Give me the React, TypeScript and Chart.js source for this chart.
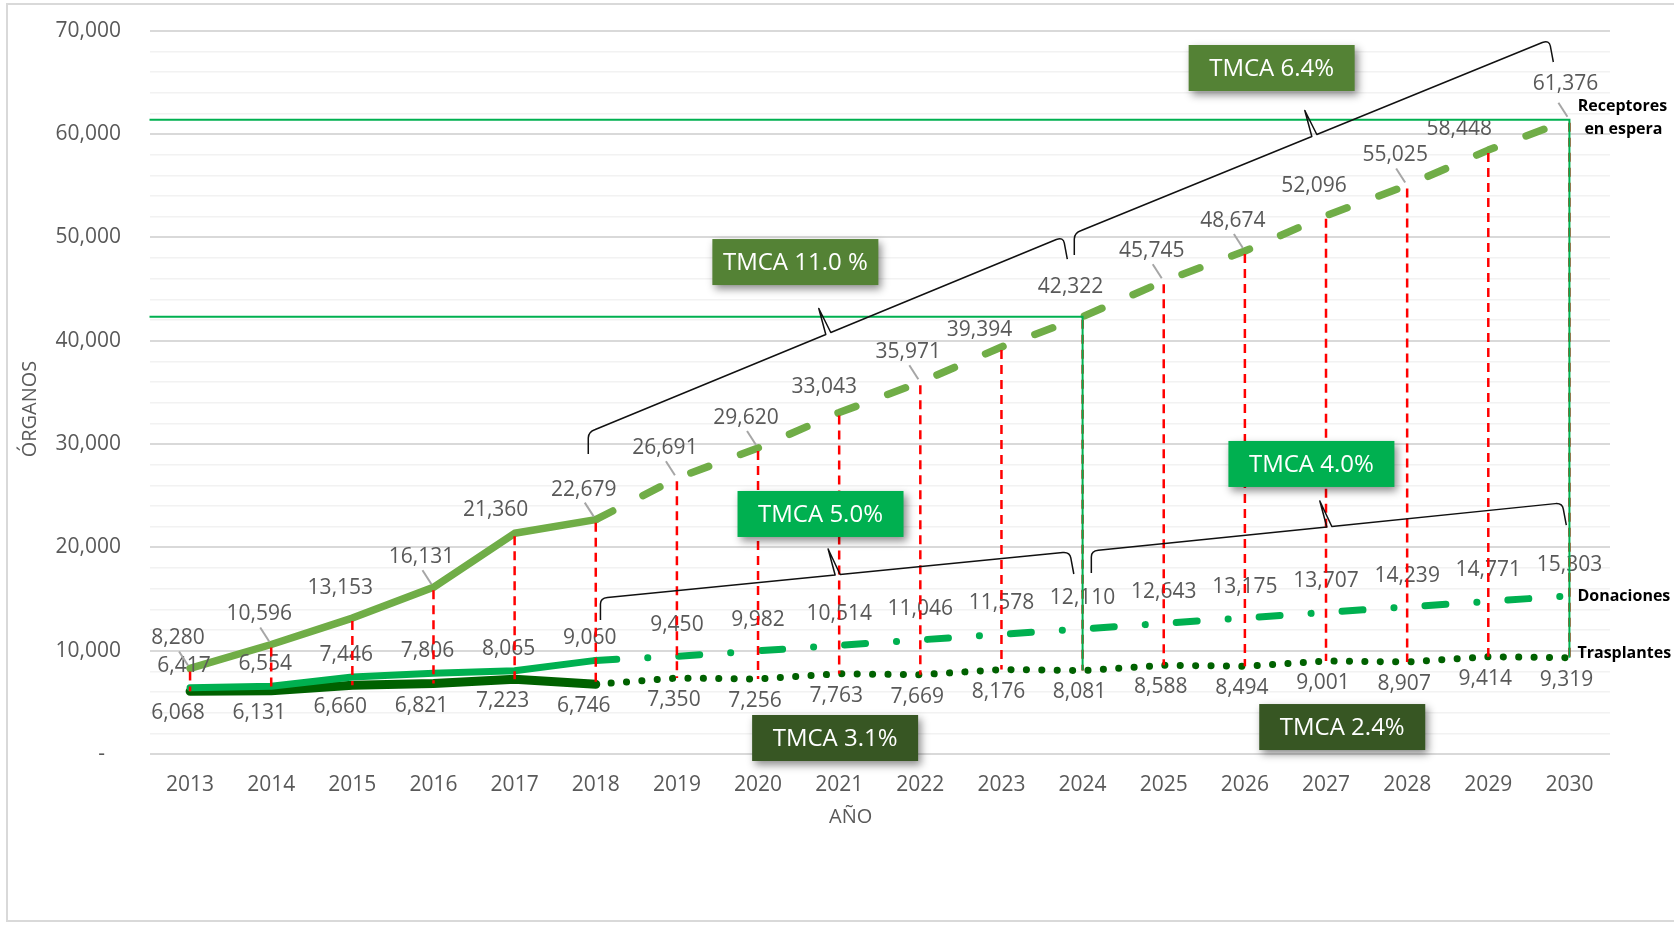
import React, { useEffect, useRef } from 'react';
import { Chart, registerables } from 'chart.js';

Chart.register(...registerables);

const years = ['2013', '2014', '2015', '2016', '2017', '2018', '2019', '2020', '2021', '2022', '2023', '2024', '2025', '2026', '2027', '2028', '2029', '2030'];
const receptores = [8280, 10596, 13153, 16131, 21360, 22679, 26691, 29620, 33043, 35971, 39394, 42322, 45745, 48674, 52096, 55025, 58448, 61376];
const donaciones = [6417, 6554, 7446, 7806, 8065, 9060, 9450, 9982, 10514, 11046, 11578, 12110, 12643, 13175, 13707, 14239, 14771, 15303];
const trasplantes = [6068, 6131, 6660, 6821, 7223, 6746, 7350, 7256, 7763, 7669, 8176, 8081, 8588, 8494, 9001, 8907, 9414, 9319];
const seriesNames = ['Receptores en espera', 'Donaciones', 'Trasplantes'];
const yTickMax = 70000;
const yTickStep = 2000;
const lastObservedIndex = 5; // 2018
const milestoneIndices = [11, 17]; // 2024, 2030
const receptorLeaderYears = ['2013', '2014', '2016', '2018', '2019', '2020', '2022', '2025', '2026', '2028', '2030'];
const tmcaTexts = ['TMCA 11.0 %', 'TMCA 6.4%', 'TMCA 5.0%', 'TMCA 4.0%', 'TMCA 3.1%', 'TMCA 2.4%'];

// label placement exceptions for the receptores series (pixel offsets from the point)
const receptorLabelShift: Record<string, [number, number]> = {
  '2017': [-19, -23],
  '2021': [-15, -26],
  '2023': [-22, -17],
  '2029': [-29, -21],
  '2030': [-4, -36],
};

// annotation placement (data space: category index, value)
const tmcaBoxes = [
  { text: tmcaTexts[0], x: 7.46, y: 47610, color: '#548235' },
  { text: tmcaTexts[1], x: 13.33, y: 66390, color: '#548235' },
  { text: tmcaTexts[2], x: 7.77, y: 23230, color: '#00B050' },
  { text: tmcaTexts[3], x: 13.82, y: 28070, color: '#00B050' },
  { text: tmcaTexts[4], x: 7.95, y: 1550, color: '#375623' },
  { text: tmcaTexts[5], x: 14.2, y: 2610, color: '#375623' },
];
const braces = [
  { x1: 4.92, y1: 31160, x2: 10.75, y2: 50030 },
  { x1: 10.91, y1: 50420, x2: 16.74, y2: 69100 },
  { x1: 5.07, y1: 15100, x2: 10.83, y2: 19550 },
  { x1: 11.12, y1: 19650, x2: 16.9, y2: 24290 },
];

const FONT = "'Open Sans', sans-serif";
const GREY = '#595959';
const fmt = (v: number) => v.toLocaleString('en-US');

function drawBrace(ctx: CanvasRenderingContext2D, x1: number, y1: number, x2: number, y2: number) {
  const slope = (y2 - y1) / (x2 - x1);
  const ly = (x: number) => y1 + (x - x1) * slope;
  const mx = (x1 + x2) / 2;
  ctx.beginPath();
  ctx.moveTo(x1 - 1, y1 + 22);
  ctx.lineTo(x1 - 1, y1 + 6);
  ctx.quadraticCurveTo(x1 - 1, y1, x1 + 6, ly(x1 + 6));
  ctx.lineTo(mx, ly(mx));
  ctx.lineTo(mx - 7, ly(mx) - 26);
  ctx.lineTo(mx + 5, ly(mx + 5));
  ctx.lineTo(x2 - 6, ly(x2 - 6));
  ctx.quadraticCurveTo(x2 + 1, y2, x2 + 2, y2 + 6);
  ctx.lineTo(x2 + 5, y2 + 22);
  ctx.stroke();
}

const overlayPlugin = {
  id: 'overlay',
  afterDatasetsDraw(chart: any) {
    const { ctx, chartArea, scales } = chart;
    const xs = scales.x;
    const ys = scales.y;
    const px = (i: number) => xs.getPixelForValue(i);
    const py = (v: number) => ys.getPixelForValue(v);
    ctx.save();

    // data labels
    ctx.font = `21px ${FONT}`;
    ctx.fillStyle = GREY;
    ctx.textAlign = 'center';
    ctx.textBaseline = 'middle';
    years.forEach((yr, i) => {
      const x = px(i);
      const [rdx, rdy] = receptorLabelShift[yr] || [-12, -30];
      ctx.fillText(fmt(receptores[i]), x + rdx, py(receptores[i]) + rdy);
      const hist = i <= lastObservedIndex;
      ctx.fillText(fmt(donaciones[i]), x + (hist ? -6 : 0), py(donaciones[i]) + (hist ? -22 : -31));
      ctx.fillText(fmt(trasplantes[i]), x + (hist ? -12 : -3), py(trasplantes[i]) + 22);
    });

    // leader lines
    ctx.strokeStyle = '#A6A6A6';
    ctx.lineWidth = 2;
    years.forEach((yr, i) => {
      if (!receptorLeaderYears.includes(yr)) return;
      const x = px(i);
      const y = py(receptores[i]);
      ctx.beginPath();
      ctx.moveTo(x - 11, y - 17);
      ctx.lineTo(x - 2, y - 3);
      ctx.stroke();
    });

    // red dashed verticals
    ctx.strokeStyle = '#FF0000';
    ctx.lineWidth = 2.5;
    ctx.setLineDash([9, 6]);
    years.forEach((yr, i) => {
      const x = px(i);
      ctx.beginPath();
      ctx.moveTo(x, py(receptores[i]) + 3);
      ctx.lineTo(x, py(trasplantes[i]));
      ctx.stroke();
    });
    ctx.setLineDash([]);

    // green milestone lines
    ctx.strokeStyle = '#00B050';
    ctx.lineWidth = 2;
    milestoneIndices.forEach((i) => {
      const x = px(i);
      const y = py(receptores[i]);
      ctx.beginPath();
      ctx.moveTo(chartArea.left, y);
      ctx.lineTo(x, y);
      ctx.lineTo(x, py(trasplantes[i]));
      ctx.stroke();
    });

    // braces
    ctx.strokeStyle = '#111111';
    ctx.lineWidth = 1.5;
    ctx.lineJoin = 'round';
    braces.forEach((b) => drawBrace(ctx, px(b.x1), py(b.y1), px(b.x2), py(b.y2)));

    // TMCA boxes
    tmcaBoxes.forEach((b) => {
      const cx = px(b.x);
      const cy = py(b.y);
      const w = 166;
      const h = 46;
      ctx.save();
      ctx.shadowColor = 'rgba(0,0,0,0.45)';
      ctx.shadowBlur = 8;
      ctx.shadowOffsetX = 3;
      ctx.shadowOffsetY = 4;
      ctx.fillStyle = b.color;
      ctx.fillRect(cx - w / 2, cy - h / 2, w, h);
      ctx.restore();
      ctx.fillStyle = '#FFFFFF';
      ctx.font = `24px ${FONT}`;
      ctx.textAlign = 'center';
      ctx.textBaseline = 'middle';
      ctx.fillText(b.text, cx, cy + 1);
    });

    // series names at the right
    const last = years.length - 1;
    const lx = px(last);
    ctx.fillStyle = '#000000';
    ctx.font = `bold 16px ${FONT}`;
    ctx.textBaseline = 'middle';
    ctx.textAlign = 'center';
    const [r1, r2] = ['Receptores', 'en espera'];
    ctx.fillText(r1, lx + 53, py(receptores[last]) - 13);
    ctx.fillText(r2, lx + 54, py(receptores[last]) + 10);
    ctx.textAlign = 'left';
    ctx.fillText(seriesNames[1], lx + 8, py(donaciones[last]) + 1);
    ctx.fillText(seriesNames[2], lx + 8, py(trasplantes[last]) - 4);

    // axis titles
    ctx.fillStyle = GREY;
    ctx.font = `20px ${FONT}`;
    ctx.textAlign = 'center';
    ctx.fillText('AÑO', (chartArea.left + chartArea.right) / 2 - 29, 817);
    ctx.translate(30, 409);
    ctx.rotate(-Math.PI / 2);
    ctx.fillText('ÓRGANOS', 0, 0);
    ctx.restore();
  },
};

export default function App() {
  const canvasRef = useRef<HTMLCanvasElement | null>(null);

  useEffect(() => {
    const canvas = canvasRef.current;
    if (!canvas) return;
    const projected = (c: any) => c.p0DataIndex >= lastObservedIndex;
    const chart = new Chart(canvas, {
      type: 'line',
      data: {
        labels: years,
        datasets: [
          {
            label: seriesNames[0],
            data: receptores,
            borderColor: '#70AD47',
            borderWidth: 7.5,
            pointRadius: 0,
            tension: 0,
            fill: false,
            borderCapStyle: 'round',
            borderJoinStyle: 'round',
            segment: { borderDash: (c: any) => (projected(c) ? [19, 34] : undefined) },
          },
          {
            label: seriesNames[1],
            data: donaciones,
            borderColor: '#00B050',
            borderWidth: 7,
            pointRadius: 0,
            tension: 0,
            fill: false,
            borderCapStyle: 'round',
            borderJoinStyle: 'round',
            segment: { borderDash: (c: any) => (projected(c) ? [21, 31, 0.1, 31] : undefined) },
          },
          {
            label: seriesNames[2],
            data: trasplantes,
            borderColor: '#006100',
            borderWidth: 9,
            pointRadius: 0,
            tension: 0,
            fill: false,
            borderCapStyle: 'round',
            borderJoinStyle: 'round',
            segment: {
              borderDash: (c: any) => (projected(c) ? [0.1, 15.3] : undefined),
              borderWidth: (c: any) => (projected(c) ? 7 : 9),
            },
          },
        ],
      },
      options: {
        animation: false,
        responsive: false,
        devicePixelRatio: 1,
        layout: { padding: { top: 30.7, right: 64, bottom: 71, left: 0 } },
        plugins: { legend: { display: false }, tooltip: { enabled: false } },
        scales: {
          x: {
            type: 'category',
            offset: true,
            grid: { display: false, drawTicks: false },
            border: { display: false },
            ticks: { color: GREY, font: { family: FONT, size: 21 }, padding: 18, maxRotation: 0, autoSkip: false },
            afterFit: (s: any) => { s.height = 100; s.paddingLeft = 0; s.paddingRight = 0; },
          },
          y: {
            min: 0,
            max: yTickMax,
            grid: {
              drawTicks: false,
              color: (c: any) => (c.tick && c.tick.value % 10000 === 0 ? '#D9D9D9' : '#F2F2F2'),
              lineWidth: (c: any) => (c.tick && c.tick.value % 10000 === 0 ? 2 : 1.5),
            },
            border: { display: false },
            ticks: {
              stepSize: yTickStep,
              autoSkip: false,
              color: GREY,
              font: { family: FONT, size: 21 },
              padding: 28.5,
              callback: (v: any) => (v % 10000 !== 0 ? '' : v === 0 ? '-\u2002 ' : fmt(Number(v))),
            },
            afterFit: (s: any) => { s.width = 149.5; s.paddingTop = 0; s.paddingBottom = 0; },
          },
        },
      },
      plugins: [overlayPlugin],
    } as any);
    return () => chart.destroy();
  }, []);

  return (
    <div style={{ position: 'fixed', left: 0, top: 0, width: 1674, height: 925, background: '#FFFFFF', overflow: 'hidden' }}>
      <div style={{ position: 'absolute', left: 6, top: 3, width: 1700, height: 919, boxSizing: 'border-box', border: '2px solid #D9D9D9' }} />
      <canvas ref={canvasRef} width={1674} height={925} style={{ position: 'absolute', left: 0, top: 0, display: 'block' }} />
    </div>
  );
}
